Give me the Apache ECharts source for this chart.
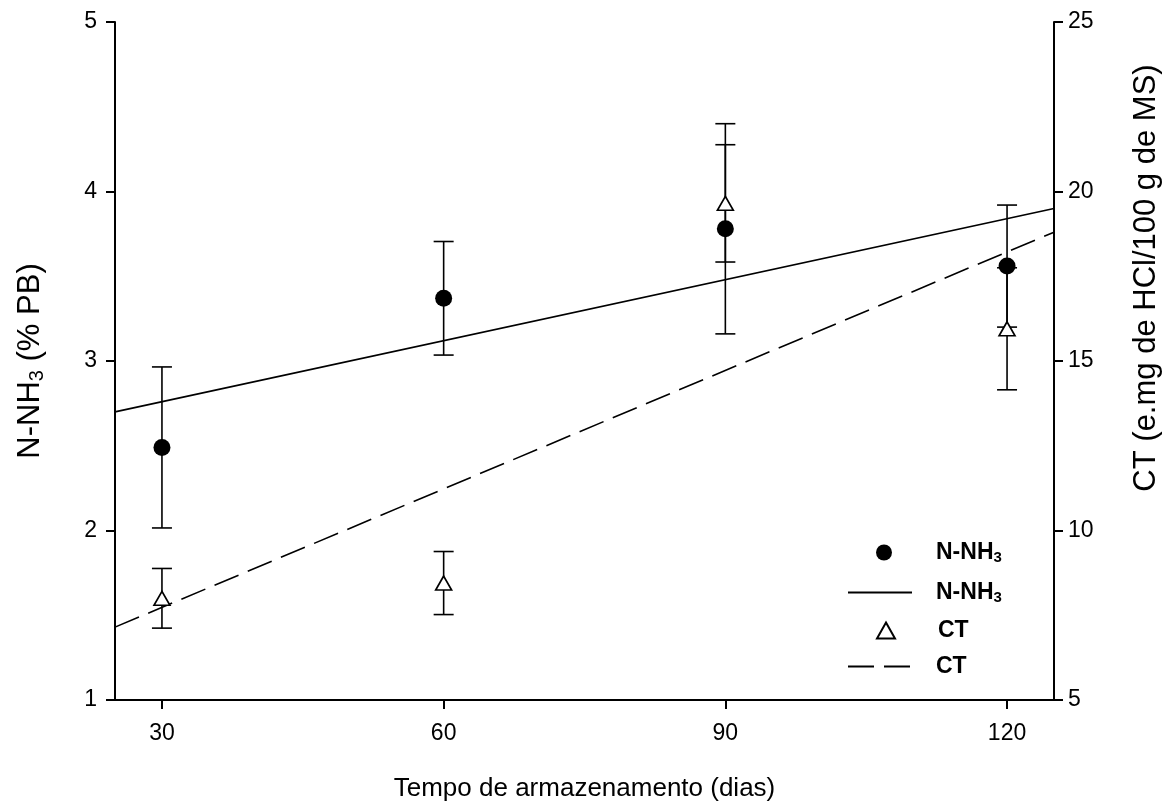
<!DOCTYPE html>
<html>
<head>
<meta charset="utf-8">
<script src="https://cdn.jsdelivr.net/npm/echarts@6/dist/echarts.min.js"></script>
<style>
  html, body { margin: 0; padding: 0; background: #fff; }
  #chart { width: 1175px; height: 810px; }
</style>
</head>
<body>
<div id="chart"></div>
<script>
// storage time (days)
const days = [30, 60, 90, 120];

// N-NH3 (% PB), left axis
const nh3Mean = [2.49, 3.37, 3.78, 3.56];
const nh3Err = [0.475, 0.335, 0.62, 0.36];
const nh3Fit = [[25, 2.70], [125, 3.90]];

// CT (e.mg de HCl/100 g de MS), right axis
const ctMean = [8.0, 8.45, 19.65, 15.95];
const ctErr = [0.88, 0.93, 1.73, 1.8];
const ctFit = [[25, 7.15], [125, 18.8]];

const xTicks = [30, 60, 90, 120];

const font = "'Liberation Sans', Arial, sans-serif";
const chartDom = document.getElementById("chart");
const myChart = echarts.init(chartDom);

const pairs = (xs, ys) => xs.map((x, i) => [x, ys[i]]);
const bars = (xs, ys, es) => xs.map((x, i) => [x, ys[i] - es[i], ys[i] + es[i]]);

const renderErrorBar = function (params, api) {
  const x = api.value(0);
  const lo = api.coord([x, api.value(1)]);
  const hi = api.coord([x, api.value(2)]);
  const half = 10;
  const style = { stroke: "#000", lineWidth: 1.6 };
  return {
    type: "group",
    children: [
      { type: "line", shape: { x1: lo[0], y1: lo[1], x2: hi[0], y2: hi[1] }, style: style },
      { type: "line", shape: { x1: lo[0] - half, y1: lo[1], x2: lo[0] + half, y2: lo[1] }, style: style },
      { type: "line", shape: { x1: hi[0] - half, y1: hi[1], x2: hi[0] + half, y2: hi[1] }, style: style },
    ],
  };
};

const labelNames = {
  nh3: "{b|N-NH}{s|3}",
  nh3fit: "{b|N-NH}{s|3}",
  ct: "{b|CT}",
  ctfit: "{b|CT}",
};

const legendRich = {
  b: { fontFamily: font, fontSize: 23, fontWeight: "bold", color: "#000" },
  s: { fontFamily: font, fontSize: 15, fontWeight: "bold", color: "#000", padding: [10, 0, 0, 0] },
};

// one small legend per row, so marker icons keep their shape and line icons their length
const legendRow = (name, top, isLine) => ({
  orient: "vertical",
  left: isLine ? 842 : 871,
  top: top,
  itemWidth: isLine ? 64 : 18,
  itemHeight: isLine ? 15 : 16,
  data: [isLine ? { name: name, itemStyle: { opacity: 0 } } : { name: name }],
  formatter: (n) => labelNames[n],
  selectedMode: false,
  textStyle: { padding: [0, 0, 0, isLine ? 19 : 38], rich: legendRich },
});

const axisCommon = {
  axisLine: { show: true, lineStyle: { color: "#000", width: 2 } },
  axisTick: { show: true, inside: false, length: 9, lineStyle: { color: "#000", width: 2 } },
  splitLine: { show: false },
  nameLocation: "middle",
  nameTextStyle: { color: "#000", fontFamily: font, fontSize: 26 },
};
const tickFont = { color: "#000", fontFamily: font, fontSize: 23 };

const option = {
  backgroundColor: "#fff",
  animation: false,
  grid: { left: 115, right: 121, top: 22, bottom: 110, containLabel: false },
  legend: [
    legendRow("nh3", 536, false),
    legendRow("nh3fit", 576, true),
    legendRow("ct", 614, false),
    legendRow("ctfit", 650, true),
  ],
  xAxis: Object.assign({}, axisCommon, {
    type: "value",
    min: 25,
    max: 125,
    interval: 30,
    name: "Tempo de armazenamento (dias)",
    nameGap: 76,
    axisLabel: Object.assign({}, tickFont, { margin: 22, customValues: xTicks }),
    axisTick: Object.assign({}, axisCommon.axisTick, { customValues: xTicks }),
  }),
  yAxis: [
    Object.assign({}, axisCommon, {
      type: "value",
      min: 1,
      max: 5,
      interval: 1,
      position: "left",
      name: "{a|N-NH}{s|3}{a| (% PB)}",
      nameGap: 68,
      nameRotate: 90,
      nameTextStyle: {
        color: "#000",
        fontFamily: font,
        fontSize: 31,
        rich: {
          a: { fontFamily: font, fontSize: 31, color: "#000" },
          s: { fontFamily: font, fontSize: 20, color: "#000", padding: [14, 0, 0, 0] },
        },
      },
      axisLabel: Object.assign({}, tickFont, { margin: 18 }),
    }),
    Object.assign({}, axisCommon, {
      type: "value",
      min: 5,
      max: 25,
      interval: 5,
      position: "right",
      name: "CT (e.mg de HCl/100 g de MS)",
      nameGap: 77,
      nameRotate: 90,
      nameTextStyle: {
        color: "#000",
        fontFamily: font,
        fontSize: 31,
        padding: [0, 0, 0, 166],
      },
      axisLabel: Object.assign({}, tickFont, { margin: 14 }),
    }),
  ],
  series: [
    {
      name: "nh3fit",
      type: "line",
      yAxisIndex: 0,
      data: nh3Fit,
      symbol: "none",
      lineStyle: { color: "#000", width: 1.6, type: "solid" },
      itemStyle: { color: "#000" },
      z: 2,
    },
    {
      name: "ctfit",
      type: "line",
      yAxisIndex: 1,
      data: ctFit,
      symbol: "none",
      lineStyle: { color: "#000", width: 1.6, type: [26, 10] },
      itemStyle: { color: "#000" },
      z: 2,
    },
    {
      name: "nh3bars",
      type: "custom",
      yAxisIndex: 0,
      data: bars(days, nh3Mean, nh3Err),
      renderItem: renderErrorBar,
      encode: { x: 0, y: [1, 2] },
      z: 3,
    },
    {
      name: "ctbars",
      type: "custom",
      yAxisIndex: 1,
      data: bars(days, ctMean, ctErr),
      renderItem: renderErrorBar,
      encode: { x: 0, y: [1, 2] },
      z: 3,
    },
    {
      name: "nh3",
      type: "scatter",
      yAxisIndex: 0,
      data: pairs(days, nh3Mean),
      symbol: "circle",
      symbolSize: 17,
      itemStyle: { color: "#000", opacity: 1 },
      z: 4,
    },
    {
      name: "ct",
      type: "scatter",
      yAxisIndex: 1,
      data: pairs(days, ctMean),
      symbol: "triangle",
      symbolSize: [16, 14],
      itemStyle: { color: "#fff", borderColor: "#000", borderWidth: 1.6, opacity: 1 },
      z: 4,
    },
  ],
};

option && myChart.setOption(option);
</script>
</body>
</html>
